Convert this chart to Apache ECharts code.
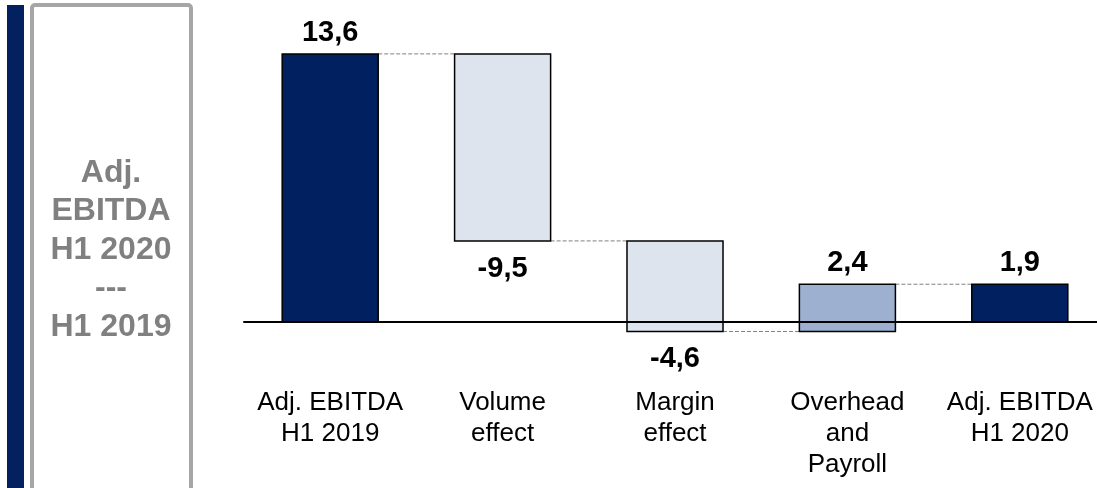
<!DOCTYPE html>
<html>
<head>
<meta charset="utf-8">
<script src="https://cdn.jsdelivr.net/npm/echarts@6/dist/echarts.min.js"></script>
<style>
  html, body { margin: 0; padding: 0; background: #fff; }
  #chart { width: 1097px; height: 488px; }
</style>
</head>
<body>
<div id="chart"></div>
<script>
// ---- data ----
const categories = ['Adj. EBITDA\nH1 2019', 'Volume\neffect', 'Margin\neffect', 'Overhead\nand\nPayroll', 'Adj. EBITDA\nH1 2020'];
const values = [13.6, -9.5, -4.6, 2.4, 1.9];
const kinds = ['total', 'delta', 'delta', 'delta', 'total'];
const valueLabels = ['13,6', '-9,5', '-4,6', '2,4', '1,9'];
const sideTitle = 'Adj.\nEBITDA\nH1 2020\n---\nH1 2019';

// ---- derived waterfall spans ----
const spans = [];
let running = 0;
values.forEach((v, i) => {
  let s, e;
  if (kinds[i] === 'total') { s = 0; e = v; running = v; }
  else { s = running; e = running + v; running = e; }
  spans.push([i, s, e, v]);
});
const connectors = spans.slice(0, -1).map(d => [d[0], d[2]]);

const NAVY = '#002060', LIGHT = '#dde4ee', MID = '#9eb0cf';
function barColor(i) {
  if (kinds[i] === 'total') return NAVY;
  return values[i] < 0 ? LIGHT : MID;
}

const FONT = '"Liberation Sans", Arial, Helvetica, sans-serif';
const chart = echarts.init(document.getElementById('chart'), null, { renderer: 'canvas' });

chart.setOption({
  animation: false,
  grid: { left: 244, width: 862, top: 46, height: 315, containLabel: false, outerBoundsMode: 'none' },
  xAxis: {
    type: 'category',
    data: categories,
    z: 5,
    axisLine: { show: true, onZero: true, lineStyle: { color: '#000', width: 2 } },
    axisTick: { show: false },
    splitLine: { show: false },
    axisLabel: {
      interval: 0,
      margin: 26,
      color: '#000',
      fontFamily: FONT,
      fontSize: 26,
      lineHeight: 31,
      hideOverlap: false
    }
  },
  yAxis: {
    type: 'value', min: -2, max: 14, show: false,
    splitLine: { show: false }
  },
  series: [
    {
      type: 'custom',
      z: 2,
      data: spans,
      encode: { x: 0, y: [1, 2] },
      renderItem: function (params, api) {
        const i = api.value(0);
        const s = api.value(1), e = api.value(2), v = api.value(3);
        const p1 = api.coord([i, s]);
        const p2 = api.coord([i, e]);
        const w = api.size([1, 0])[0] * 0.557;
        const x = p1[0] - w / 2;
        const top = Math.min(p1[1], p2[1]);
        const bottom = Math.max(p1[1], p2[1]);
        const neg = v < 0;
        return {
          type: 'group',
          children: [
            {
              type: 'rect',
              shape: { x: x, y: top, width: w, height: bottom - top },
              style: { fill: barColor(i), stroke: '#000', lineWidth: 1.5 }
            },
            {
              type: 'text',
              style: {
                text: valueLabels[i],
                x: p1[0],
                y: neg ? bottom + 28 : top - 21,
                align: 'center',
                verticalAlign: 'middle',
                fill: '#000',
                font: 'bold 29px ' + FONT
              }
            }
          ]
        };
      }
    },
    {
      type: 'custom',
      z: 1,
      data: connectors,
      encode: { x: 0, y: 1 },
      renderItem: function (params, api) {
        const i = api.value(0);
        const lvl = api.value(1);
        const a = api.coord([i, lvl]);
        const b = api.coord([i + 1, lvl]);
        const w = api.size([1, 0])[0] * 0.557;
        return {
          type: 'line',
          shape: { x1: a[0] + w / 2, y1: a[1], x2: b[0] - w / 2, y2: b[1] },
          style: { stroke: '#808080', lineWidth: 1, lineDash: [4, 2] }
        };
      }
    }
  ],
  graphic: [
    { type: 'rect', shape: { x: 7, y: 5, width: 17, height: 490 }, style: { fill: '#03215e' } },
    { type: 'rect', shape: { x: 32, y: 5, width: 159, height: 500, r: 3 }, style: { fill: '#fff', stroke: '#a6a6a6', lineWidth: 4 } },
    {
      type: 'text',
      style: {
        text: sideTitle,
        x: 111, y: 250,
        align: 'center', verticalAlign: 'middle',
        fill: '#808080',
        font: 'bold 32px ' + FONT,
        lineHeight: 38.5
      }
    }
  ]
});
</script>
</body>
</html>
